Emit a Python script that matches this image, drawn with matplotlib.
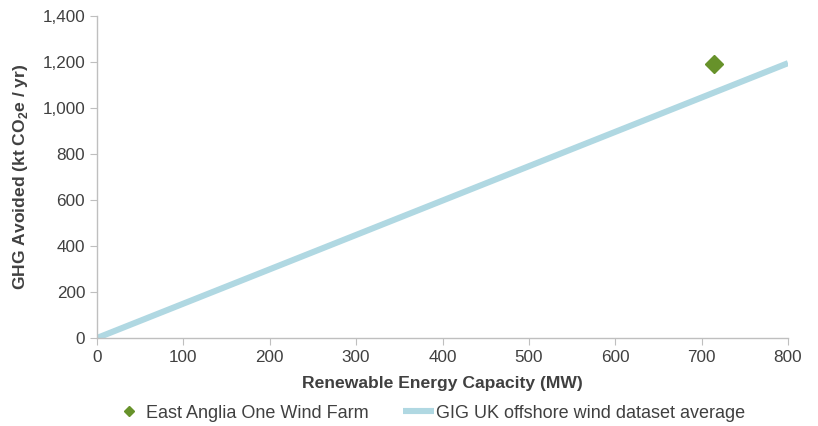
import matplotlib
matplotlib.use('Agg')
import matplotlib.pyplot as plt
from matplotlib.ticker import FuncFormatter

plt.rcParams['font.family'] = ['Liberation Sans', 'DejaVu Sans']
plt.rcParams['mathtext.fontset'] = 'custom'
plt.rcParams['mathtext.rm'] = 'Liberation Sans'
plt.rcParams['mathtext.bf'] = 'Liberation Sans:bold'

# data
farm_mw = [714]
farm_ghg = [1190]
avg_mw = [0, 800]
avg_ghg = [0, 1195]

grey = '#BFBFBF'
txt = '#404040'

fig = plt.figure(figsize=(8.18, 4.26), dpi=100)
ax = fig.add_axes([97/818, 1 - 338/426, (788 - 97)/818, (338 - 16)/426])

ax.plot(avg_mw, avg_ghg, color='#B0D8E2', lw=4.4, solid_capstyle='butt',
        label='GIG UK offshore wind dataset average', zorder=2)
ax.plot(farm_mw, farm_ghg, linestyle='none', marker='D', ms=9.2, color='#67922A',
        label='East Anglia One Wind Farm', zorder=3)

ax.set_xlim(0, 800)
ax.set_ylim(0, 1400)
ax.set_xticks(range(0, 801, 100))
ax.set_yticks(range(0, 1401, 200))
ax.yaxis.set_major_formatter(FuncFormatter(lambda v, p: f'{int(v):,}'))

for s in ['top', 'right']:
    ax.spines[s].set_visible(False)
for s in ['left', 'bottom']:
    ax.spines[s].set_color(grey)
    ax.spines[s].set_linewidth(1)
ax.tick_params(direction='out', length=5, color=grey, labelcolor=txt, labelsize=12.3)

ax.set_xlabel('Renewable Energy Capacity (MW)', fontsize=12.6, fontweight='bold',
              color=txt, labelpad=8)
ax.set_ylabel(r'GHG Avoided (kt CO$_\mathbf{2}$e / yr)', fontsize=12.6,
              fontweight='bold', color=txt, labelpad=9)

h, l = ax.get_legend_handles_labels()
leg = fig.legend(h[::-1], l[::-1], loc='center', bbox_to_anchor=(0.525, 1 - 413/426),
                 ncol=2, frameon=False, fontsize=13, handlelength=1.7,
                 columnspacing=1.9, markerscale=0.5, handletextpad=0.1)
for t in leg.get_texts():
    t.set_color(txt)

fig.savefig('out.png', dpi=100)
